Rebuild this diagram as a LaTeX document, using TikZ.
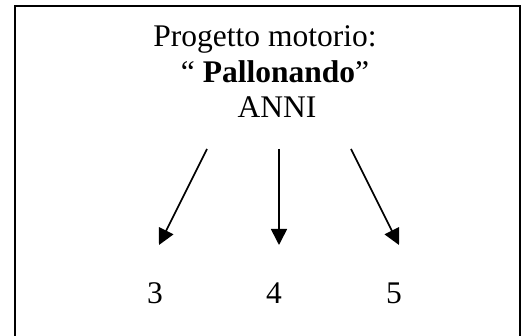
\documentclass[tikz,border=0pt]{standalone}
\usepackage{fontspec}
\setmainfont{Liberation Serif}
\usetikzlibrary{arrows.meta}
\begin{document}
\begin{tikzpicture}[x=1pt,y=-1pt,
  txt/.style={font=\fontsize{31.5}{36}\selectfont, inner sep=0pt, anchor=base},
  arr/.style={line width=1.6pt, -{Triangle[length=16pt,width=16pt]}},
  frame/.style={line width=2pt}]
\useasboundingbox (0,0) rectangle (528,336);
\draw[frame] (15,345) -- (15,6) -- (520,6) -- (520,345);
\node[txt] (t1) at (265,47) {Progetto motorio:};
\node[txt] (t2) at (275,83) {“ \textbf{Pallonando}”};
\node[txt] (t3) at (277,118) {ANNI};
\coordinate (s1) at (207,149);
\coordinate (s2) at (279,149);
\coordinate (s3) at (351,149);
\coordinate (e1) at (159,245);
\coordinate (e2) at (279,245);
\coordinate (e3) at (399,245);
\draw[arr] (s1) -- (e1);
\draw[arr] (s2) -- (e2);
\draw[arr] (s3) -- (e3);
\node[txt] (n3) at (155,304) {3};
\node[txt] (n4) at (274,304) {4};
\node[txt] (n5) at (394,304) {5};
\end{tikzpicture}
\end{document}
